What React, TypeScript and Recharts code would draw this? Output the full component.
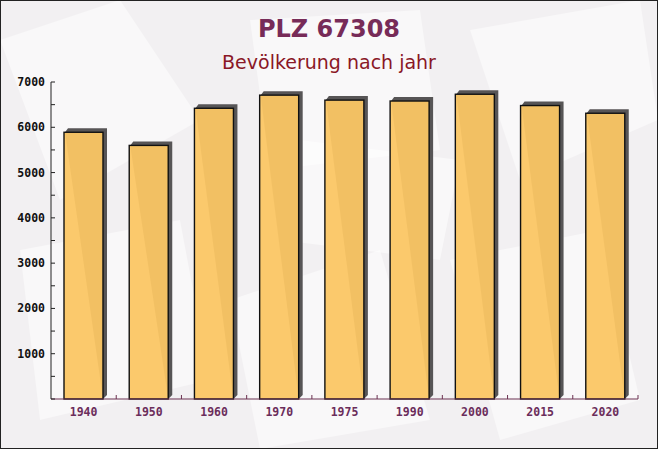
import React from 'react';
import { BarChart, Bar, XAxis, YAxis } from 'recharts';

// Population per year
const YEARS = ['1940', '1950', '1960', '1970', '1975', '1990', '2000', '2015', '2020'];
const POPULATION = [5890, 5600, 6420, 6710, 6600, 6580, 6730, 6480, 6310];
const Y_TICKS = [0, 500, 1000, 1500, 2000, 2500, 3000, 3500, 4000, 4500, 5000, 5500, 6000, 6500, 7000];

const TITLE = 'PLZ 67308';
const SUBTITLE = 'Bevölkerung nach jahr';

const WIDTH = 658;
const HEIGHT = 449;
const MARGIN = { top: 82, right: 20, left: 0, bottom: 20 };
const Y_AXIS_WIDTH = 51;
const X_AXIS_HEIGHT = 30;

// axis line positions, derived from the layout above
const AXIS_X = MARGIN.left + Y_AXIS_WIDTH;
const AXIS_Y = HEIGHT - MARGIN.bottom - X_AXIS_HEIGHT;
const BAND = (WIDTH - MARGIN.left - MARGIN.right - Y_AXIS_WIDTH) / YEARS.length;

const chartData = YEARS.map((year, i) => ({ year, value: POPULATION[i] }));

const MONO = '"DejaVu Sans Mono", monospace';

/** Bar with a dark offset block behind it, like a pseudo-3D shadow */
function ShadowBar(props: any) {
  const { x, y, width, height } = props;
  if (height <= 0) return null;
  const d = 4;
  const bottom = y + height;
  return (
    <g>
      <polygon
        points={`${x + 1},${y} ${x + d},${y - d} ${x + width + d},${y - d} ${x + width + d},${bottom - d} ${x + width},${bottom}`}
        fill="#575556"
      />
      <rect x={x} y={y} width={width} height={height} fill="#fbc664" fillOpacity={0.95} stroke="#111" strokeWidth={1.4} />
    </g>
  );
}

/** Y ticks point inside the plot; labels only every 1000 */
function YTick(props: any) {
  const { y, payload } = props;
  const v = payload.value as number;
  return (
    <g>
      <line x1={AXIS_X} x2={AXIS_X + 4} y1={y} y2={y} stroke="#222" strokeWidth={1} />
      {v > 0 && v % 1000 === 0 && (
        <text x={AXIS_X - 6} y={y} dy={4} textAnchor="end" fill="#111" fontFamily={MONO} fontWeight="bold" fontSize={11.5}>
          {v}
        </text>
      )}
    </g>
  );
}

/** X labels at category centres, tick marks at the band boundaries */
function XTick(props: any) {
  const { x, payload } = props;
  return (
    <g>
      <line x1={x + BAND / 2} x2={x + BAND / 2} y1={AXIS_Y} y2={AXIS_Y - 4} stroke="#6b3050" strokeWidth={1} />
      <text x={x} y={AXIS_Y + 17} textAnchor="middle" fill="#6b2d5b" fontFamily={MONO} fontWeight="bold" fontSize={11.5}>
        {payload.value}
      </text>
    </g>
  );
}

function Backdrop() {
  // faint envelope-like shapes behind the chart
  return (
    <svg width={WIDTH} height={HEIGHT} style={{ position: 'absolute', left: 0, top: 0 }}>
      <rect x={0} y={0} width={WIDTH} height={HEIGHT} fill="#f2f0f2" />
      <g fill="#ffffff" fillOpacity={0.5}>
        <polygon points="0,40 120,0 200,120 60,200" />
        <polygon points="250,20 420,10 440,150 270,170" />
        <polygon points="470,30 640,0 658,120 520,180" />
        <polygon points="20,250 180,220 210,380 40,420" />
        <polygon points="230,300 380,250 430,420 260,449" />
        <polygon points="450,260 600,230 640,400 500,440" />
        <polygon points="300,140 460,160 440,260 280,240" />
      </g>
      <rect x={0.5} y={0.5} width={WIDTH - 1} height={HEIGHT - 1} fill="none" stroke="#222" strokeWidth={1} />
    </svg>
  );
}

export default function App() {
  return (
    <div style={{ position: 'absolute', left: 0, top: 0, width: WIDTH, height: HEIGHT, fontFamily: '"DejaVu Sans", sans-serif' }}>
      <Backdrop />
      <div style={{ position: 'absolute', left: 0, top: 15, width: WIDTH, textAlign: 'center', fontSize: 24, fontWeight: 'bold', color: '#772b58' }}>
        {TITLE}
      </div>
      <div style={{ position: 'absolute', left: 0, top: 51, width: WIDTH, textAlign: 'center', fontSize: 19, color: '#8a1726' }}>
        {SUBTITLE}
      </div>
      <div style={{ position: 'absolute', left: 0, top: 0 }}>
        <BarChart width={WIDTH} height={HEIGHT} data={chartData} margin={MARGIN}>
          <XAxis
            dataKey="year"
            stroke="#6b3050"
            tickLine={false}
            height={X_AXIS_HEIGHT}
            tick={<XTick />}
            interval={0}
          />
          <YAxis
            domain={[0, 7000]}
            ticks={Y_TICKS}
            interval={0}
            width={Y_AXIS_WIDTH}
            stroke="#222"
            tickLine={false}
            tick={<YTick />}
          />
          <Bar dataKey="value" barSize={39} shape={<ShadowBar />} isAnimationActive={false} />
        </BarChart>
      </div>
    </div>
  );
}
